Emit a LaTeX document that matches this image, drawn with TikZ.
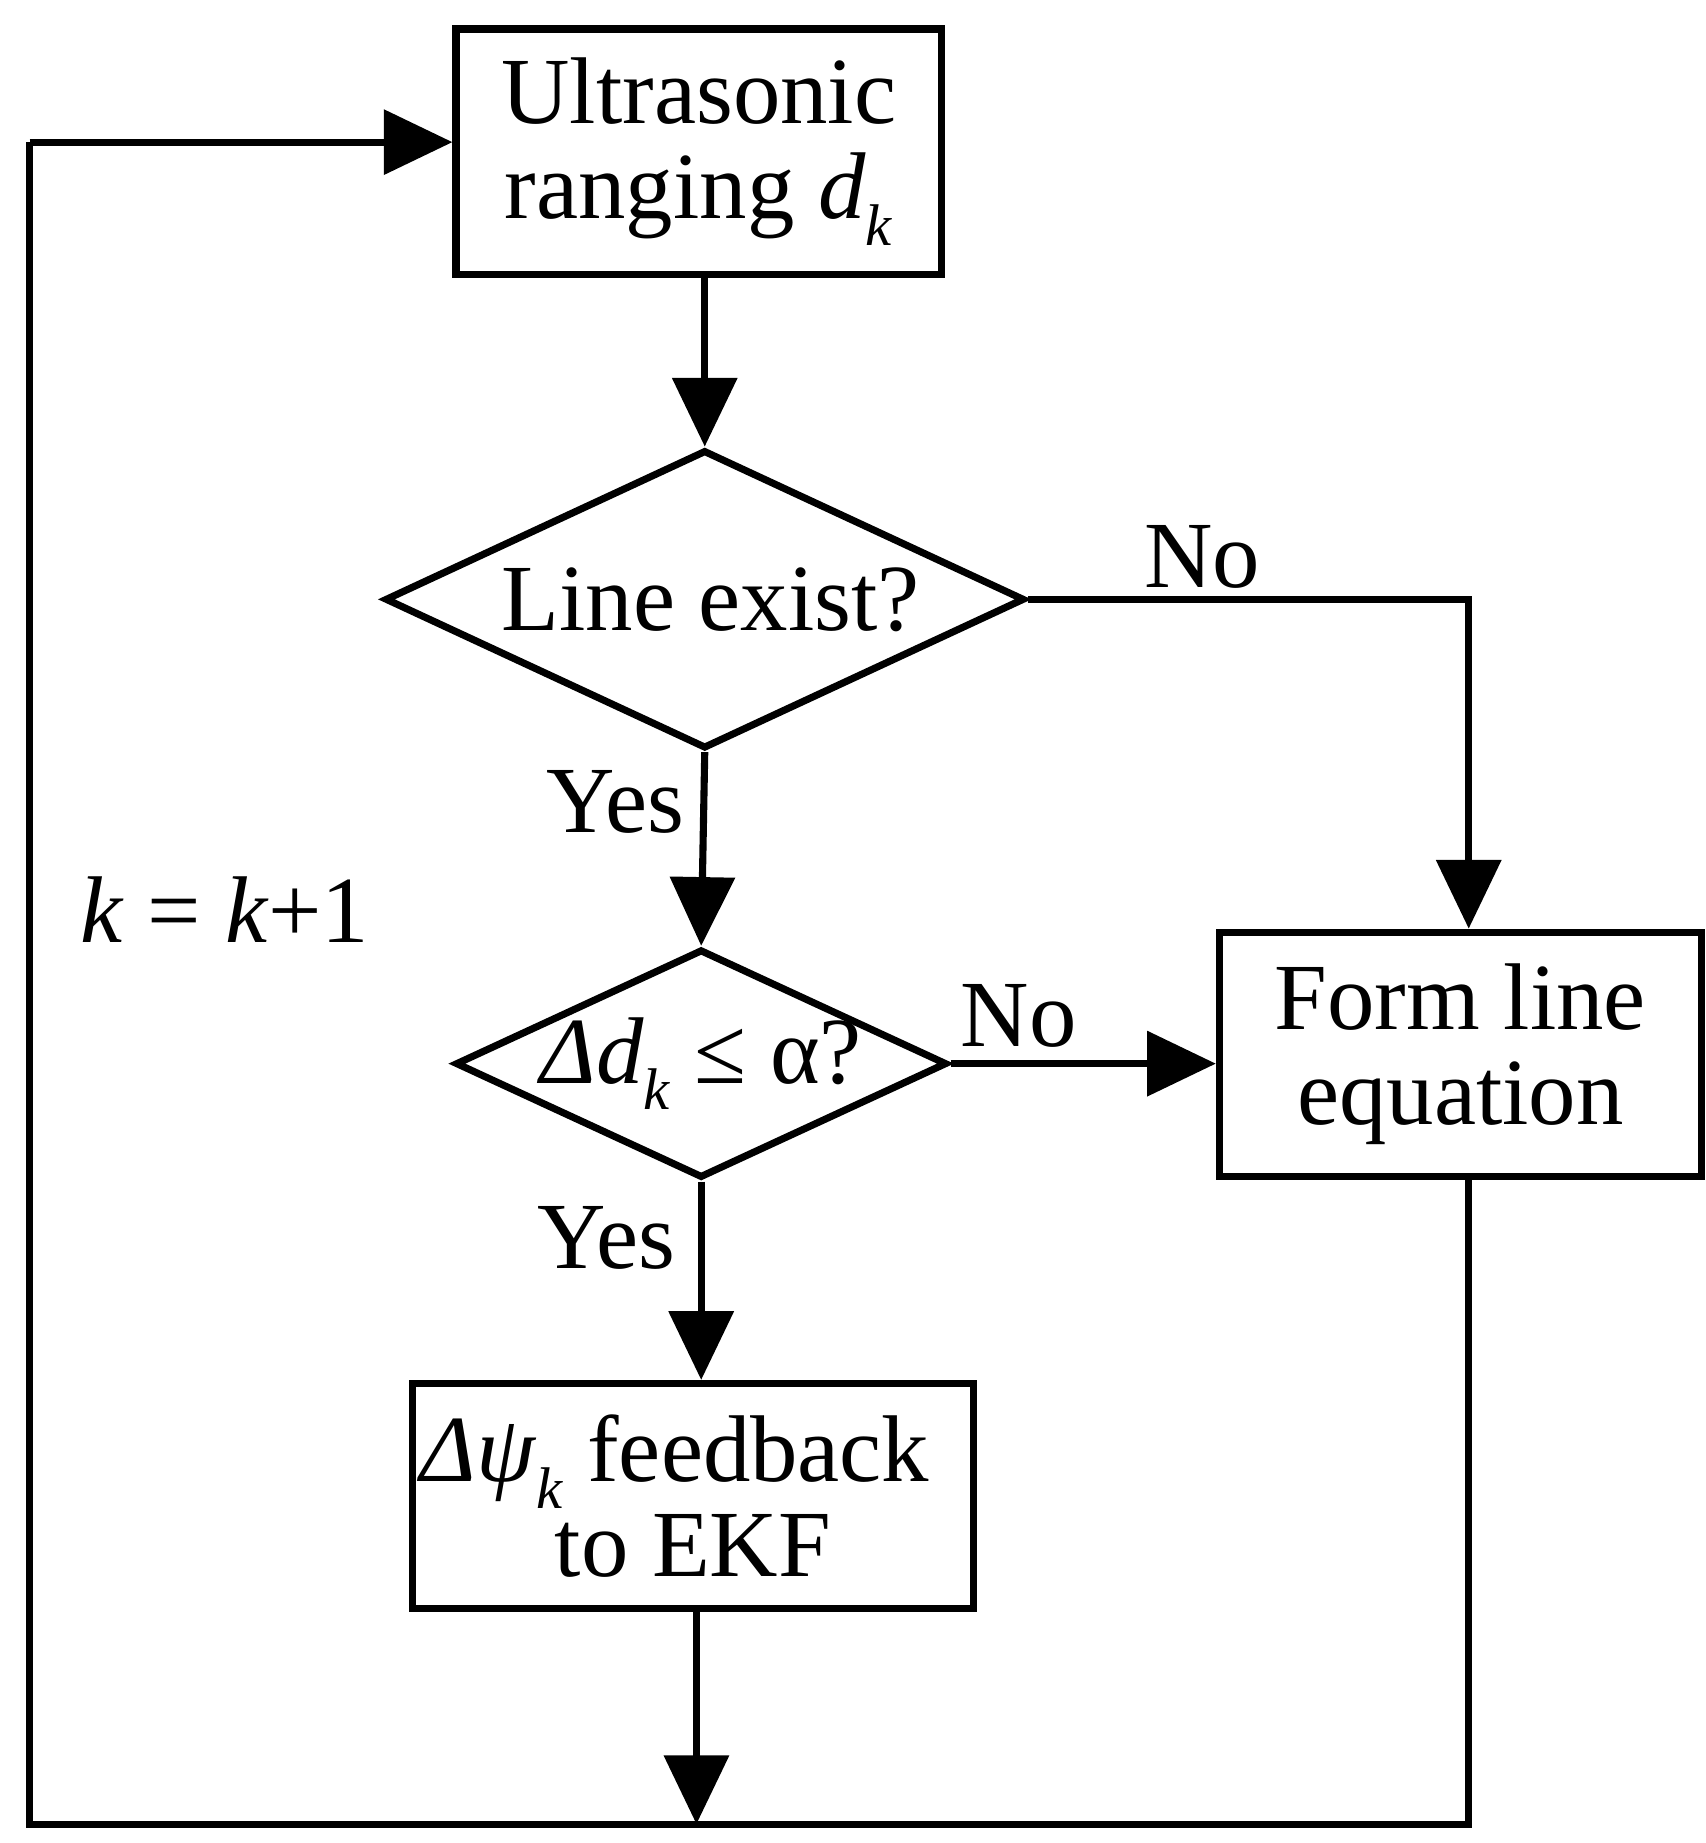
\documentclass[tikz,border=0pt]{standalone}
\usepackage{fontspec}
\setmainfont{Liberation Serif}
\usetikzlibrary{shapes.geometric,arrows.meta}
\newcommand{\mysub}[1]{\raisebox{-0.28em}{\scalebox{0.62}{\textit{#1}}}}
\begin{document}
\begin{tikzpicture}[x=1pt,y=-1pt,
  every node/.style={font=\fontsize{80}{80}\selectfont},
  box/.style={draw,line width=6pt,inner sep=0pt,align=center},
  dia/.style={draw,diamond,line width=6pt,inner sep=0pt},
  line/.style={line width=6pt},
  arr/.style={line width=6pt,-{Triangle[length=58pt,width=54pt]}},
  lab/.style={inner sep=0pt}]
\useasboundingbox (0,0) rectangle (1440,1556);
\node[box,minimum width=410pt,minimum height=207pt] (b1) at (590,128) {Ultrasonic\\ranging \textit{d}\mysub{k}};
\node[dia,minimum width=540pt,minimum height=252pt] (d1) at (595,506) {};
\node[lab] (t1) at (600,506) {Line exist?};
\node[dia,minimum width=415pt,minimum height=193pt] (d2) at (592,898) {};
\node[lab] (t2) at (592,898) {\textit{Δd}\mysub{k} ≤ α?};
\node[box,minimum width=407pt,minimum height=206pt] (b2) at (1233,890) {Form line\\equation};
\node[box,minimum width=474pt,minimum height=190pt] (b3) at (585,1263) {\hspace*{-30pt}\textit{Δψ}\mysub{k} feedback\\to EKF};
\coordinate (bl) at (25,1540);
\coordinate (br) at (1240,1540);
\coordinate (bm) at (588,1540);
\coordinate (tl) at (25,120);
\draw[arr] (b1.south -| d1.north) -- (d1.north);
\draw[arr] (d1.east) -| (b2.north -| br);
\draw[arr] (d1.south) -- (d2.north);
\draw[arr] (d2.east) -- (d2.east -| b2.west);
\draw[arr] (d2.south) -- (d2.south |- b3.north);
\draw[arr] (b3.south -| bm) -- (bm);
\draw[line] (b2.south -| br) -- (br) -- (bl) -- (tl);
\draw[arr] (tl) -- (b1.west |- tl);
\node[lab] (n1) at (1015,470) {No};
\node[lab] (y1) at (520,677) {Yes};
\node[lab] (n2) at (860,858) {No};
\node[lab] (y2) at (512,1045) {Yes};
\node[lab] (k) at (190,768) {\textit{k} = \textit{k}+1};
\end{tikzpicture}
\end{document}
